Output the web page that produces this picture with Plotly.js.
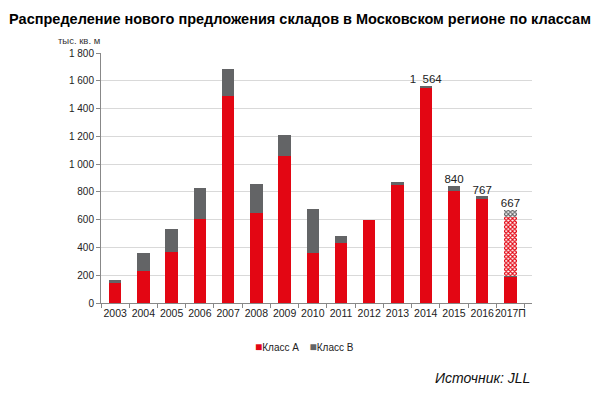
<!DOCTYPE html>
<html>
<head>
<meta charset="utf-8">
<script src="https://cdn.plot.ly/plotly-3.0.1.min.js"></script>
<style>html,body{margin:0;padding:0;background:#fff;}#chart{width:600px;height:396px;}</style>
</head>
<body>
<div id="chart"></div>
<script>
const years = ["2003","2004","2005","2006","2007","2008","2009","2010","2011","2012","2013","2014","2015","2016","2017П"];
const classA = [145, 227, 368, 605, 1490, 650, 1055, 362, 430, 595, 850, 1550, 808, 747, 184];
const classB = [22, 132, 168, 221, 195, 210, 157, 318, 55, 0, 20, 14, 32, 20, 14];
const forecastYears = ["2017П"];
const forecastA = [424];
const forecastB = [45];
const labelYears = ["2014", "2015", "2016", "2017П"];
const labelTotals = [1564, 840, 767, 667];
const labelTexts = ["1  564", "840", "767", "667"];
const seriesNames = ["Класс A", "Класс B"];

const RED = "#e30613";
const GRAY = "#636466";
const FONT = "Liberation Sans, Arial, sans-serif";

const traces = [
  {type: "bar", name: seriesNames[0], x: years, y: classA, marker: {color: RED}, hoverinfo: "skip"},
  {type: "bar", name: seriesNames[1], x: years, y: classB, marker: {color: GRAY}, hoverinfo: "skip"},
  {type: "bar", name: seriesNames[0] + " (прогноз)", x: forecastYears, y: forecastA, hoverinfo: "skip",
   marker: {color: RED, pattern: {shape: "x", size: 3, solidity: 0.6, fgcolor: RED, bgcolor: "#ffffff", fillmode: "replace"}}},
  {type: "bar", name: seriesNames[1] + " (прогноз)", x: forecastYears, y: forecastB, hoverinfo: "skip",
   marker: {color: GRAY, pattern: {shape: "x", size: 3, solidity: 0.6, fgcolor: GRAY, bgcolor: "#ffffff", fillmode: "replace"}}},
  {type: "scatter", mode: "text", x: labelYears, y: labelTotals, text: labelTexts, textposition: "top center",
   cliponaxis: false, hoverinfo: "skip",
   textfont: {family: FONT, size: 11.5, color: "#222"}}
];

const legendText = '<span style="color:' + RED + ';font-size:12px">■</span>' + seriesNames[0] +
  '    <span style="color:' + GRAY + ';font-size:12px">■</span>' + seriesNames[1];

const layout = {
  width: 600, height: 396,
  margin: {l: 101, r: 68, t: 53, b: 93},
  paper_bgcolor: "#fff", plot_bgcolor: "#fff",
  barmode: "stack", bargap: 0.56,
  separators: ", ",
  showlegend: false,
  font: {family: FONT, size: 10, color: "#222"},
  title: {text: "<b>Распределение нового предложения складов в Московском регионе по классам</b>",
          x: 0.5, xref: "container", xanchor: "center", y: 0.952, yref: "container", yanchor: "middle",
          font: {family: FONT, size: 14.5, color: "#000"}},
  xaxis: {type: "category", showline: true, linecolor: "#888", linewidth: 1,
          ticks: "outside", tickson: "boundaries", ticklen: 4, tickcolor: "#888", tickangle: 0,
          tickfont: {family: FONT, size: 10.5, color: "#222"}, showgrid: false},
  yaxis: {range: [0, 1800], dtick: 200, tickformat: ",d", showline: true, linecolor: "#888", linewidth: 1,
          ticks: "outside", ticklen: 4, tickcolor: "#888", gridcolor: "#d9d9d9", gridwidth: 1,
          zeroline: false, tickfont: {family: FONT, size: 10, color: "#222"}},
  annotations: [
    {text: "тыс. кв. м", xref: "paper", yref: "paper", x: -0.104, y: 1.051,
     xanchor: "left", yanchor: "middle", showarrow: false,
     font: {family: FONT, size: 9.5, color: "#333"}},
    {text: legendText, xref: "paper", yref: "paper", x: 0.473, y: -0.174,
     xanchor: "center", yanchor: "middle", showarrow: false,
     font: {family: FONT, size: 10, color: "#222"}},
    {text: "<i>Источник: JLL</i>", xref: "paper", yref: "paper", x: 1.0, y: -0.30,
     xanchor: "right", yanchor: "middle", showarrow: false,
     font: {family: FONT, size: 14, color: "#111"}}
  ]
};

Plotly.newPlot("chart", traces, layout, {staticPlot: true, displayModeBar: false});
</script>
</body>
</html>
